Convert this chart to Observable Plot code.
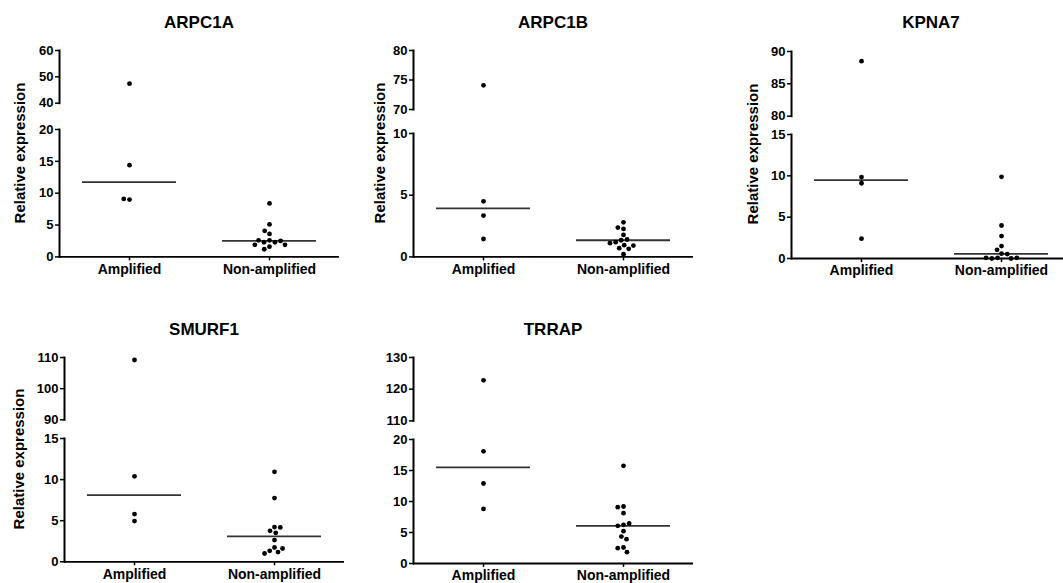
<!DOCTYPE html>
<html><head><meta charset="utf-8">
<script src="https://cdn.jsdelivr.net/npm/d3@7"></script>
<script src="https://cdn.jsdelivr.net/npm/@observablehq/plot@0.6"></script>
<style>
body{margin:0;background:#fff;}
#chart{position:relative;width:1063px;height:583px;overflow:hidden;background:#fff;font-family:"Liberation Sans",Arial,sans-serif;}
.title{position:absolute;font-weight:bold;font-size:17px;transform:translateX(-50%);white-space:nowrap;color:#000;line-height:1;}
.ylab{position:absolute;font-weight:bold;font-size:15px;white-space:nowrap;transform:translate(-50%,-50%) rotate(-90deg);color:#000;line-height:1;}
.seg{position:absolute;}
g[aria-label="fx-axis tick label"]{font-size:14px;}
g[aria-label="y-axis tick"]{stroke-width:1.5px;}
g[aria-label="fx-axis tick"]{stroke-width:1.5px;}
</style></head><body><div id="chart"></div>
<script>
const groups = ["Amplified", "Non-amplified"];
const genes = ["ARPC1A", "ARPC1B", "KPNA7", "SMURF1", "TRRAP"];
const yLabel = "Relative expression";

// values
const arpc1aAmplified = [47.4, 14.4, 9.0, 9.1];
const arpc1aNonAmplified = [8.4, 5.1, 3.6, 4.1, 2.6, 2.3, 2.3, 2.5, 2.6, 1.9, 1.9, 1.6, 1.2];
const arpc1aMedians = [11.75, 2.5];
const arpc1aLower = [0, 20], arpc1aUpper = [40, 60];
const arpc1aLowerTicks = [0, 5, 10, 15, 20], arpc1aUpperTicks = [40, 50, 60];

const arpc1bAmplified = [74.1, 4.5, 3.35, 1.45];
const arpc1bNonAmplified = [2.8, 2.27, 2.38, 1.78, 1.35, 1.41, 1.19, 0.95, 0.71, 0.65, 0.92, 1.11, 0.22];
const arpc1bMedians = [3.93, 1.35];
const arpc1bLower = [0, 10], arpc1bUpper = [70, 80];
const arpc1bLowerTicks = [0, 5, 10], arpc1bUpperTicks = [70, 75, 80];

const kpna7Amplified = [88.5, 9.85, 9.1, 2.4];
const kpna7NonAmplified = [9.88, 3.99, 2.71, 1.5, 1.05, 0.6, 0.53, 0.08, 0.0, 0.0, 0.08, 0.08];
const kpna7Medians = [9.47, 0.55];
const kpna7Lower = [0, 15], kpna7Upper = [80, 90];
const kpna7LowerTicks = [0, 5, 10, 15], kpna7UpperTicks = [80, 85, 90];

const smurf1Amplified = [109.2, 10.4, 5.8, 4.95];
const smurf1NonAmplified = [10.95, 7.75, 4.22, 3.77, 3.53, 4.18, 2.64, 1.74, 1.34, 1.18, 1.62, 1.01];
const smurf1Medians = [8.1, 3.1];
const smurf1Lower = [0, 15], smurf1Upper = [90, 110];
const smurf1LowerTicks = [0, 5, 10, 15], smurf1UpperTicks = [90, 100, 110];

const trrapAmplified = [122.8, 18.1, 12.9, 8.8];
const trrapNonAmplified = [15.75, 9.19, 9.09, 8.12, 6.24, 6.08, 6.45, 5.22, 4.35, 3.92, 2.58, 2.47, 1.83];
const trrapMedians = [15.5, 6.08];
const trrapLower = [0, 20], trrapUpper = [110, 130];
const trrapLowerTicks = [0, 5, 10, 15, 20], trrapUpperTicks = [110, 120, 130];

function rows(amp, non) {
  return [
    ...amp.map(v => ({group: groups[0], value: v})),
    ...non.map(v => ({group: groups[1], value: v}))
  ];
}

// layout (pixels)
const panels = [
  {gene: genes[0], data: rows(arpc1aAmplified, arpc1aNonAmplified), med: arpc1aMedians,
   lower: arpc1aLower, upper: arpc1aUpper, lt: arpc1aLowerTicks, ut: arpc1aUpperTicks,
   ax: 59, upTop: 50, upBot: 102.7, lowTop: 129.3, lowBot: 256.7, titleTop: 14, labX: 19},
  {gene: genes[1], data: rows(arpc1bAmplified, arpc1bNonAmplified), med: arpc1bMedians,
   lower: arpc1bLower, upper: arpc1bUpper, lt: arpc1bLowerTicks, ut: arpc1bUpperTicks,
   ax: 413, upTop: 50, upBot: 109, lowTop: 133.3, lowBot: 256.7, titleTop: 14, labX: 379},
  {gene: genes[2], data: rows(kpna7Amplified, kpna7NonAmplified), med: kpna7Medians,
   lower: kpna7Lower, upper: kpna7Upper, lt: kpna7LowerTicks, ut: kpna7UpperTicks,
   ax: 791, upTop: 51, upBot: 115.7, lowTop: 133.7, lowBot: 257.7, titleTop: 14, labX: 751.5},
  {gene: genes[3], data: rows(smurf1Amplified, smurf1NonAmplified), med: smurf1Medians,
   lower: smurf1Lower, upper: smurf1Upper, lt: smurf1LowerTicks, ut: smurf1UpperTicks,
   ax: 64, upTop: 356.7, upBot: 419, lowTop: 437.7, lowBot: 561, titleTop: 321, labX: 17.5},
  {gene: genes[4], data: rows(trrapAmplified, trrapNonAmplified), med: trrapMedians,
   lower: trrapLower, upper: trrapUpper, lt: trrapLowerTicks, ut: trrapUpperTicks,
   ax: 413, upTop: 357.3, upBot: 420.7, lowTop: 439.3, lowBot: 563.3, titleTop: 321, labX: null}
];

const chart = document.getElementById("chart");
const ML = 40, MR = 8, FACET = 140;

function segment(p, domain, ticks, top, bottom, bottomAxis) {
  const mt = 6, mb = bottomAxis ? 34 : 2;
  const h = bottom - top;
  const inDomain = p.data.filter(d => d.value >= domain[0] && d.value <= domain[1]);
  const medRows = groups.map((g, i) => ({group: g, median: p.med[i]}))
    .filter(d => d.median >= domain[0] && d.median <= domain[1]);
  const svg = Plot.plot({
    width: ML + 2 * FACET + MR,
    height: mt + h + mb,
    marginTop: mt, marginBottom: mb, marginLeft: ML, marginRight: MR,
    style: {fontFamily: "Liberation Sans, Arial, sans-serif", fontSize: "13px", fontWeight: "bold",
            color: "#000", background: "transparent", overflow: "visible"},
    fx: {domain: groups, padding: 0, label: null, axis: bottomAxis ? "bottom" : null, tickSize: 4, tickPadding: 3},
    y: {domain, ticks, tickSize: 4, tickPadding: 2, label: null},
    marks: [
      Plot.frame({anchor: "left", facetAnchor: "left", stroke: "#000", strokeWidth: 2}),
      bottomAxis ? Plot.ruleY([domain[0]], {stroke: "#000", strokeWidth: 1.8}) : null,
      Plot.ruleY(medRows, {fx: "group", y: "median", insetLeft: 23, insetRight: 23, stroke: "#333", strokeWidth: 1.8}),
      Plot.dot(inDomain, Plot.dodgeX("middle", {fx: "group", y: "value", r: 2.4, fill: "#000", stroke: "none", padding: 1}))
    ]
  });
  svg.classList.add("seg");
  svg.style.position = "absolute";
  svg.style.left = (p.ax - ML) + "px";
  svg.style.top = (top - mt) + "px";
  chart.appendChild(svg);
}

for (const p of panels) {
  segment(p, p.upper, p.ut, p.upTop, p.upBot, false);
  segment(p, p.lower, p.lt, p.lowTop, p.lowBot, true);
  const t = document.createElement("div");
  t.className = "title";
  t.textContent = p.gene;
  t.style.left = (p.ax + FACET) + "px";
  t.style.top = p.titleTop + "px";
  chart.appendChild(t);
  if (p.labX != null) {
    const l = document.createElement("div");
    l.className = "ylab";
    l.textContent = yLabel;
    l.style.left = p.labX + "px";
    l.style.top = ((p.upTop + p.lowBot) / 2) + "px";
    chart.appendChild(l);
  }
}
</script></body></html>
